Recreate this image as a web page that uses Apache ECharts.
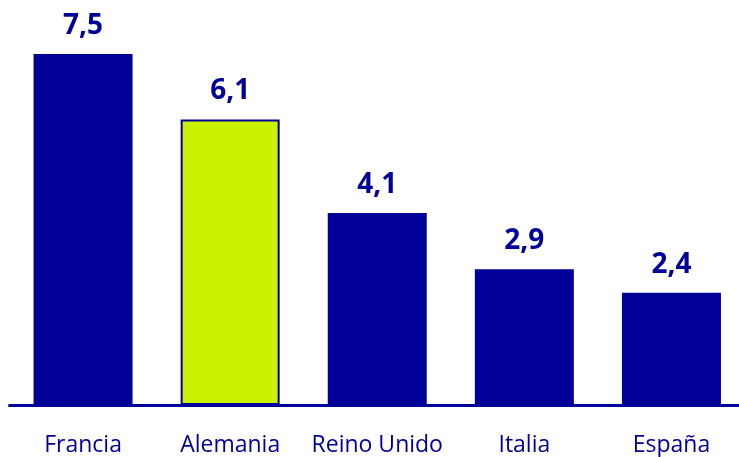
<!DOCTYPE html>
<html>
<head>
<meta charset="utf-8">
<script src="https://cdn.jsdelivr.net/npm/echarts@6/dist/echarts.min.js"></script>
<style>
  html, body { margin: 0; padding: 0; background: #fff; }
  #chart { width: 739px; height: 457px; }
</style>
</head>
<body>
<div id="chart"></div>
<script>
  const countries = ['Francia', 'Alemania', 'Reino Unido', 'Italia', 'España']
  const values = [7.5, 6.1, 4.1, 2.9, 2.4]
  const highlight = 'Alemania'

  const blue = '#000099'
  const lime = '#ccf200'

  const chart = echarts.init(document.getElementById('chart'))

  chart.setOption({
    animation: false,
    grid: {
      left: 9.5,
      top: 30.6,
      width: 735.5,
      height: 374.4,
      containLabel: false,
      outerBoundsMode: 'none'
    },
    xAxis: {
      type: 'category',
      data: countries,
      axisLine: { lineStyle: { color: blue, width: 3 } },
      axisTick: { show: false },
      axisLabel: {
        color: blue,
        fontFamily: 'Open Sans',
        fontSize: 23,
        margin: 29,
        interval: 0
      }
    },
    yAxis: {
      type: 'value',
      min: 0,
      max: 8,
      show: false,
      splitLine: { show: false }
    },
    series: [
      {
        type: 'bar',
        barWidth: 99,
        data: values.map((v, i) => ({
          value: v,
          itemStyle: countries[i] === highlight
            ? { color: lime, borderColor: blue, borderWidth: 2 }
            : { color: blue }
        })),
        label: {
          show: true,
          position: 'top',
          distance: 14,
          color: blue,
          fontFamily: 'Open Sans',
          fontWeight: 'bold',
          fontSize: 28,
          formatter: p => String(p.value).replace('.', ',')
        }
      }
    ]
  })
</script>
</body>
</html>
